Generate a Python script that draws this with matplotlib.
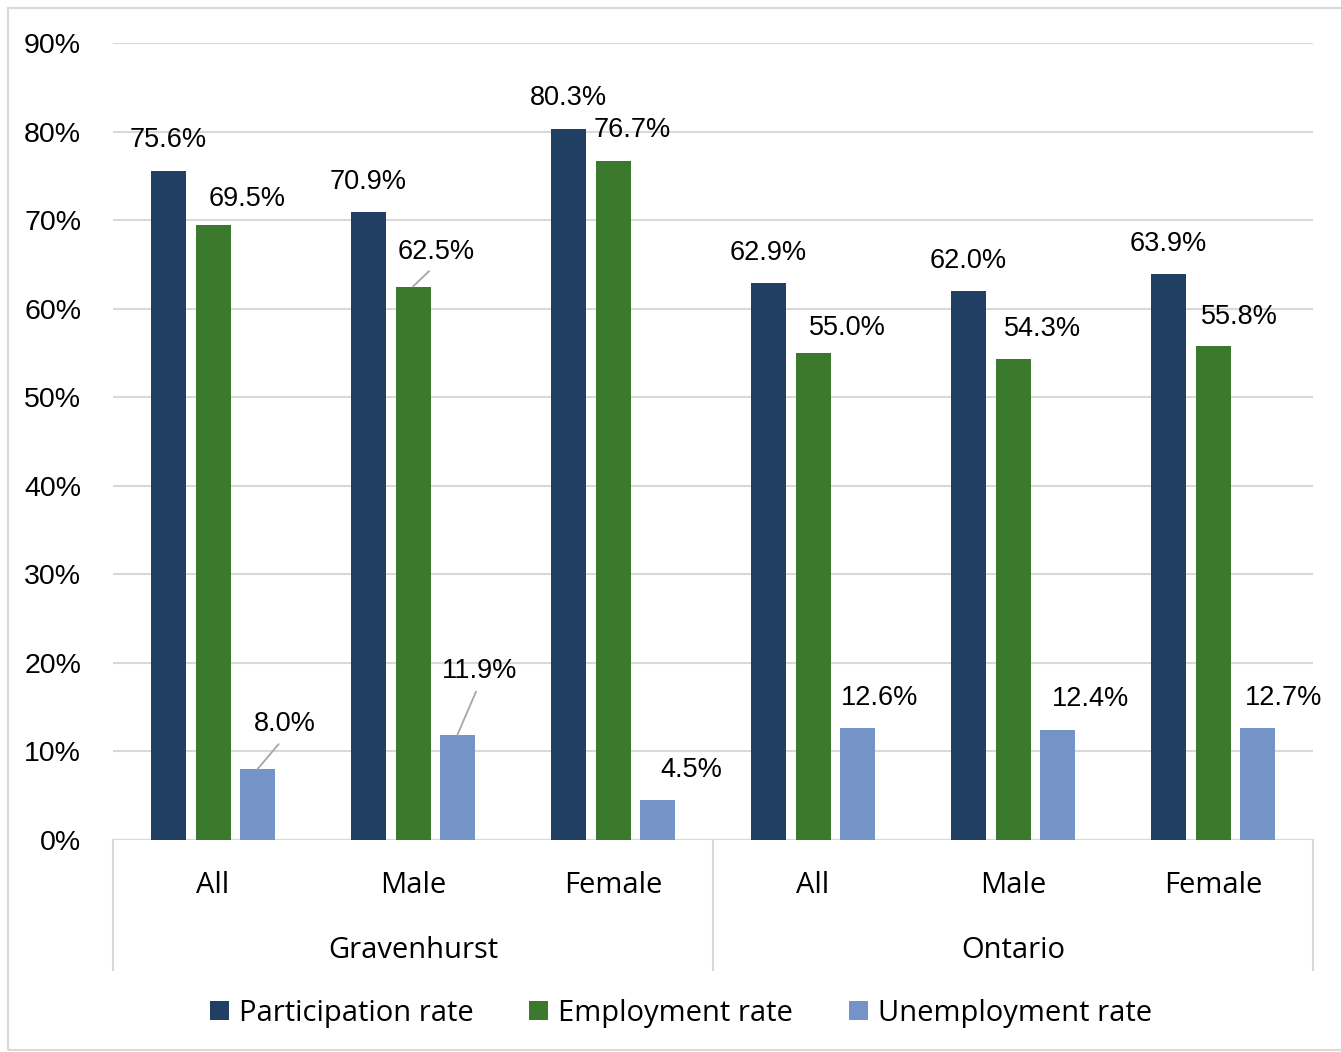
import numpy as np
import matplotlib.pyplot as plt
from matplotlib.patches import Rectangle

# data
categories   = ['All', 'Male', 'Female', 'All', 'Male', 'Female']
regions      = ['Gravenhurst', 'Ontario']
participation = [75.6, 70.9, 80.3, 62.9, 62.0, 63.9]
employment    = [69.5, 62.5, 76.7, 55.0, 54.3, 55.8]
unemployment  = [8.0, 11.9, 4.5, 12.6, 12.4, 12.7]
seriesNames  = ['Participation rate', 'Employment rate', 'Unemployment rate']

# label offsets (pixels from bar top) and which labels have leader lines
labelOffsets = [
  [(0, 31), (0, 30), (0, 31), (0, 30), (0, 30), (0, 30)],
  [(34, 26), (23, 35), (19, 31), (34, 25), (30, 30), (26, 29)],
  [(27, 45), (22, 64), (34, 30), (22, 30), (33, 31), (26, 30)],
]
leaders = [[], [1], [0, 1]]

colors = ['#203F62', '#3B7A2D', '#7494C8']
gridColor = '#D9D9D9'
numFont = 'Liberation Sans'
txtFont = 'Open Sans'

fig = plt.figure(figsize=(13.41, 10.52), dpi=100)
fig.patches.append(Rectangle((8 / 1341, 2 / 1052), 1345 / 1341, 1042 / 1052,
                             transform=fig.transFigure, fill=False,
                             edgecolor=gridColor, linewidth=1.5))
ax = fig.add_axes([113 / 1341, 212 / 1052, 1200 / 1341, 797 / 1052])

x = np.arange(len(categories))
width = 0.175
step = 0.2225
allSeries = [participation, employment, unemployment]
for i, vals in enumerate(allSeries):
  xs = x + (i - 1) * step
  ax.bar(xs, vals, width, color=colors[i], label=seriesNames[i], zorder=3)
  for j, v in enumerate(vals):
    dx, dy = labelOffsets[i][j]
    props = None
    if j in leaders[i]:
      props = dict(arrowstyle='-', color='#A6A6A6', lw=1.3, relpos=(0.5, 0.0),
                   shrinkA=4, shrinkB=0)
    ax.annotate('{:.1f}%'.format(v), xy=(xs[j], v), xytext=(dx, dy),
                textcoords='offset pixels', ha='center', va='center',
                fontsize=19.5, family=numFont, color='#000000',
                arrowprops=props, zorder=4)

ax.set_xlim(-0.5, len(categories) - 0.5)
ax.set_ylim(0, 90)
ax.set_yticks(np.arange(0, 91, 10))
ax.set_yticklabels(['{}%'.format(t) for t in range(0, 91, 10)],
                   fontsize=20.5, family=numFont)
ax.tick_params(axis='y', length=0, pad=23)
ax.set_xticks([])
ax.grid(axis='y', color=gridColor, linewidth=1.5, zorder=0)
for s in ax.spines.values():
  s.set_visible(False)
ax.axhline(0, color=gridColor, linewidth=1.5, zorder=2)

# two-level category axis
trans = ax.get_xaxis_transform()
for j, c in enumerate(categories):
  ax.text(x[j], -0.0565, c, transform=trans, ha='center', va='center',
          fontsize=21, family=txtFont)
for k, r in enumerate(regions):
  ax.text(k * 3 + 1, -0.139, r, transform=trans, ha='center', va='center',
          fontsize=21, family=txtFont)
for xb in [-0.5, 2.5, 5.5]:
  ax.plot([xb, xb], [0, -0.163], transform=trans, color=gridColor,
          linewidth=1.5, clip_on=False)

leg = fig.legend(loc='center', bbox_to_anchor=(681 / 1341, 1 - 1013 / 1052),
                 ncol=3, frameon=False,
                 prop={'family': txtFont, 'size': 21},
                 handlelength=0.65, handleheight=0.65, handletextpad=0.35,
                 columnspacing=1.9)

plt.savefig('out.png', dpi=100)
